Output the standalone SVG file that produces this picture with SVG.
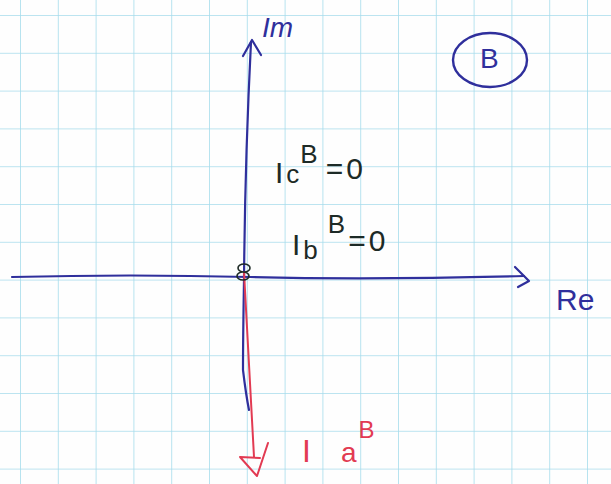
<svg xmlns="http://www.w3.org/2000/svg" width="611" height="484" viewBox="0 0 611 484">
<defs>
<pattern id="grid" x="20" y="15" width="37.8" height="37.8" patternUnits="userSpaceOnUse">
<path d="M0 0 V37.8 M0 0 H37.8" fill="none" stroke="#a6dcec" stroke-width="1.6"/>
</pattern>
<style>
.ax{fill:none;stroke:#2f2f9c;stroke-width:2.2;stroke-linecap:round;stroke-linejoin:round}
.rd{fill:none;stroke:#e23a52;stroke-width:2;stroke-linecap:round;stroke-linejoin:round}
.lb{font-family:"Liberation Sans",sans-serif}
.blue{fill:#2f2f9c}
.dark{fill:#1d2a26}
.red{fill:#e23a52}
</style>
</defs>
<rect width="611" height="484" fill="#fefefe"/>
<rect width="611" height="484" fill="url(#grid)"/>
<g id="connectors">
<path class="ax" d="M12 277 Q130 274 250 277 T524 276"/>
<path class="ax" d="M515 267 L529 281 L518 287"/>
<path class="ax" d="M244 280 Q245 160 251 42"/>
<path class="ax" d="M243 56 L252 40 L261 55"/>
<path class="ax" d="M244 280 Q243 340 243 370 Q246 395 249 410"/>
<path class="rd" d="M244 272 L254 457"/>
<path class="rd" d="M240 457 L260 458 M240 457 L257 476 L268 443"/>
<path fill="none" stroke="#1d2a26" stroke-width="1.6" d="M238 268 a6 4 0 1 0 12 0 a6 4 0 1 0 -12 0 M237 276 a6 4 0 1 0 12 0 a6 4 0 1 0 -12 0"/>
</g>
<g id="im"><text class="lb blue" x="262" y="37" font-size="28" font-style="italic">Im</text></g>
<g id="re"><text class="lb blue" x="556" y="310" font-size="30">Re</text></g>
<g id="circleB">
<ellipse cx="490" cy="60" rx="37" ry="27" fill="none" stroke="#2f2f9c" stroke-width="2.4"/>
<text class="lb blue" x="480" y="68" font-size="28">B</text>
</g>
<g id="ic"><text class="lb dark" x="275" y="183" font-size="30">I<tspan font-size="26" dx="3">c</tspan><tspan font-size="26" dx="1" dy="-20">B</tspan><tspan dy="16" dx="8" font-size="30" letter-spacing="3">=0</tspan></text></g>
<g id="ib"><text class="lb dark" x="292" y="255" font-size="30">I<tspan font-size="26" dx="3" dy="4">b</tspan><tspan font-size="26" dx="10" dy="-26">B</tspan><tspan dy="18" dx="3" font-size="30" letter-spacing="3">=0</tspan></text></g>
<g id="ia"><text class="lb red" x="302" y="462" font-size="32">I<tspan font-size="28" dx="30">a</tspan><tspan font-size="24" dx="2" dy="-24">B</tspan></text></g>
</svg>
